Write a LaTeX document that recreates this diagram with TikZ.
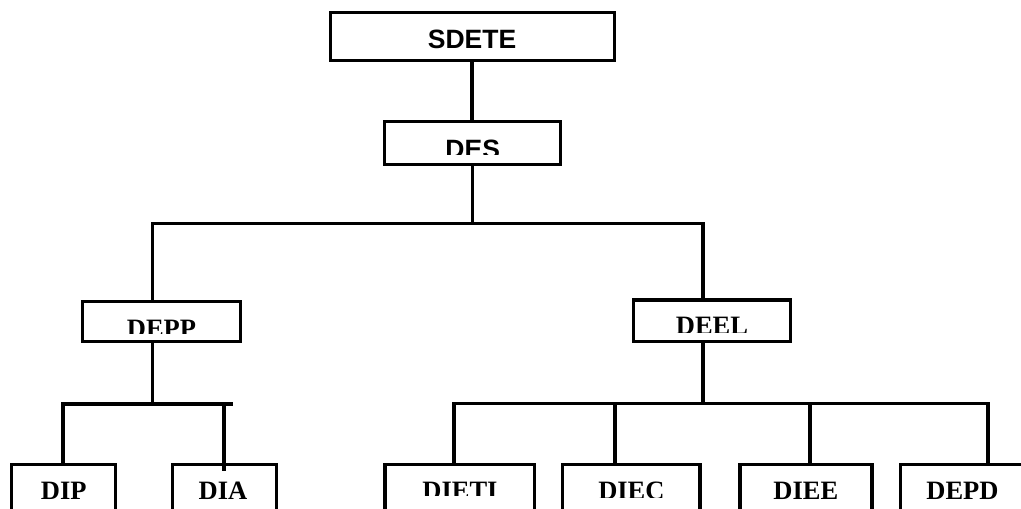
\documentclass[tikz,border=0pt]{standalone}
\usepackage{fontspec}
\setmainfont{Liberation Serif}
\newfontfamily\arialfont{Liberation Sans}
\begin{document}
\begin{tikzpicture}[x=1pt,y=-1pt,
  box/.style={draw=black, line width=3.5pt, rectangle, inner sep=0pt},
  conn/.style={draw=black, line width=3.5pt},
  sanslbl/.style={inner sep=0pt, font=\arialfont\bfseries\fontsize{26.5}{30}\selectfont},
  seriflbl/.style={inner sep=0pt, font=\bfseries\fontsize{26.5}{30}\selectfont}]
\useasboundingbox (0,0) rectangle (1021,509);
\fill[white] (0,0) rectangle (1021,509);
% boxes
\node[box, minimum width=284pt, minimum height=48pt] (sdete) at (472.5,36.5) {};
\node[box, minimum width=176pt, minimum height=43pt] (des) at (472.5,143) {};
\node[box, minimum width=158pt, minimum height=40pt] (depp) at (161.5,321.5) {};
\node[box, minimum width=157pt, minimum height=41.5pt] (deel) at (712,320.5) {};
\node[box, minimum width=104pt, minimum height=65.5pt] (dip) at (63.5,497.25) {};
\node[box, minimum width=104pt, minimum height=65.5pt] (dia) at (224.5,497.25) {};
\node[box, minimum width=149.7pt, minimum height=65.5pt] (dieti) at (459.65,497.25) {};
\node[box, minimum width=137.7pt, minimum height=65.5pt] (diec) at (631.35,497.25) {};
\node[box, minimum width=132pt, minimum height=65.5pt] (diee) at (805.8,497.25) {};
\node[box, minimum width=124.5pt, minimum height=65.5pt] (depd) at (962.75,497.25) {};
% texts
\node[sanslbl] (sdete-t) at (472,39) {SDETE};
\begin{scope}
  \clip (0,0) rectangle (1021,154);
  \node[sanslbl] (des-t) at (472.7,149.3) {DES};
\end{scope}
\begin{scope}
  \clip (0,0) rectangle (1021,333);
  \node[seriflbl] (depp-t) at (161.5,328.6) {DEPP};
\end{scope}
\begin{scope}
  \clip (0,0) rectangle (1021,332.3);
  \node[seriflbl] (deel-t) at (712,325.9) {DEEL};
\end{scope}
\node[seriflbl] (dip-t) at (63.8,491) {DIP};
\node[seriflbl] (dia-t) at (223,491) {DIA};
\begin{scope}
  \clip (0,0) rectangle (1021,495);
  \node[seriflbl] (dieti-t) at (460,491.3) {DIETI};
\end{scope}
\begin{scope}
  \clip (0,0) rectangle (1021,497);
  \node[seriflbl] (diec-t) at (631.4,491.3) {DIEC};
\end{scope}
\node[seriflbl] (diee-t) at (805.8,491) {DIEE};
\node[seriflbl] (depd-t) at (962.5,490.5) {DEPD};
% junction coordinates
\coordinate (b1l) at (152.5,223.3);
\coordinate (b1r) at (703,223.3);
\coordinate (b2l) at (63,404);
\coordinate (b2m) at (152.5,404);
\coordinate (b2r) at (233,404);
\coordinate (diaj) at (224,404);
\coordinate (diaend) at (224,471);
\coordinate (b3l) at (454,403.3);
\coordinate (b3m) at (703,403.3);
\coordinate (b3a) at (615,403.3);
\coordinate (b3b) at (810,403.3);
\coordinate (b3r) at (988,403.3);
% connectors
\draw[conn] (sdete.south -| 472,0) -- (des.north -| 472,0);
\draw[conn] (des.south -| 472.5,0) -- (b1l -| 472.5,0);
\draw[conn] (depp.north -| b1l) -- (b1l) -- (b1r) -- (deel.north -| b1r);
\draw[conn] (depp.south -| b2m) -- (b2m);
\draw[conn] (dip.north -| b2l) -- (b2l) -- (b2r);
\draw[conn] (diaj) -- (diaend);
\draw[conn] (deel.south -| b3m) -- (b3m);
\draw[conn] (dieti.north -| b3l) -- (b3l) -- (b3r) -- (depd.north -| b3r);
\draw[conn] (b3a) -- (diec.north -| b3a);
\draw[conn] (b3b) -- (diee.north -| b3b);
\end{tikzpicture}
\end{document}
